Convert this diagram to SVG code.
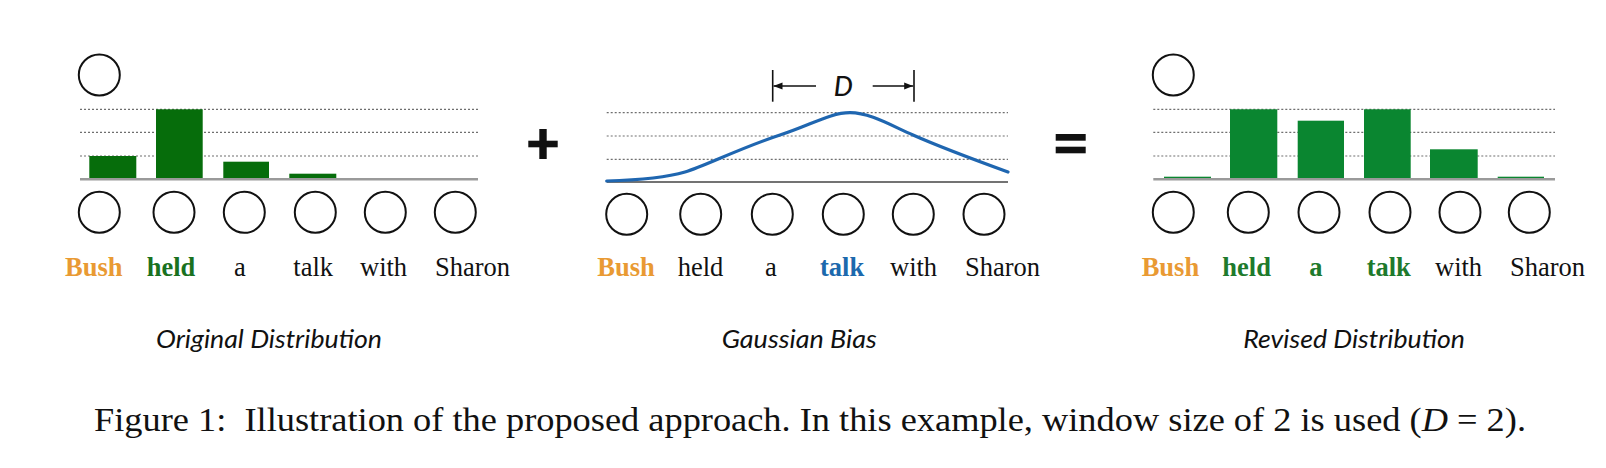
<svg xmlns="http://www.w3.org/2000/svg" width="1606" height="468" viewBox="0 0 1606 468">
<defs>
<style>
.node{fill:none;stroke:#111;stroke-width:2}
.dot{stroke:#6f6f6f;stroke-width:1.2;stroke-dasharray:2 2;fill:none}
.base{stroke:#9a9a9a;stroke-width:2.5}
.bar1{fill:#066d0b}
.bar3{fill:#0a8630}
.w{font-family:"Liberation Serif","Times New Roman",serif;font-size:26.5px;fill:#111}
.b{font-weight:bold}
.or{fill:#e99a33}
.g1{fill:#19711f}
.g3{fill:#1e7a2c}
.bl{fill:#1c69ad}
.cap{font-family:Lato,"Open Sans",sans-serif;font-style:italic;font-size:25px;fill:#111}
.fig{font-family:"Liberation Serif","Times New Roman",serif;font-size:33px;fill:#111}
.dim{stroke:#111;stroke-width:1.6;fill:none}
</style>
<marker id="ah" viewBox="0 0 10 10" refX="10" refY="5" markerWidth="9" markerHeight="9" markerUnits="userSpaceOnUse" orient="auto">
<path d="M0,1 L10,5 L0,9 z" fill="#111"/>
</marker>
</defs>
<rect width="1606" height="468" fill="#fff"/>

<!-- Panel 1: Original Distribution -->
<g id="panel1-grid">
<line class="dot" x1="80" y1="109.3" x2="478" y2="109.3"/>
<line class="dot" x1="80" y1="132.3" x2="478" y2="132.3"/>
<line class="dot" x1="80" y1="156" x2="478" y2="156"/>
</g>
<g id="panel1-bars">
<rect class="bar1" x="89.3" y="156" width="47" height="23"/>
<rect class="bar1" x="156" y="109.3" width="46.7" height="69.7"/>
<rect class="bar1" x="223.3" y="161.7" width="45.7" height="17.3"/>
<rect class="bar1" x="289.3" y="173.7" width="47" height="5.3"/>
</g>
<line class="base" x1="80" y1="179.3" x2="478" y2="179.3"/>
<g id="p1-top"><circle class="node" cx="99.3" cy="75" r="20.5"/></g>
<g id="p1-n1"><circle class="node" cx="99.3" cy="212.3" r="20.5"/></g>
<g id="p1-n2"><circle class="node" cx="174" cy="212.3" r="20.5"/></g>
<g id="p1-n3"><circle class="node" cx="244.3" cy="212.3" r="20.5"/></g>
<g id="p1-n4"><circle class="node" cx="315.3" cy="212.3" r="20.5"/></g>
<g id="p1-n5"><circle class="node" cx="385.3" cy="212.3" r="20.5"/></g>
<g id="p1-n6"><circle class="node" cx="455.3" cy="212.3" r="20.5"/></g>
<g id="p1-words">
<text class="w b or" x="65" y="276">Bush</text>
<text class="w b g1" x="146.7" y="276">held</text>
<text class="w" x="234" y="276">a</text>
<text class="w" x="293.3" y="276">talk</text>
<text class="w" x="360" y="276">with</text>
<text class="w" x="435" y="276">Sharon</text>
</g>
<text class="cap" x="156" y="348" textLength="226" lengthAdjust="spacingAndGlyphs">Original Distribution</text>

<!-- plus -->
<g id="plus">
<rect x="528.3" y="140.7" width="29.4" height="6.6" fill="#111"/>
<rect x="539.3" y="129" width="7.4" height="30" fill="#111"/>
</g>

<!-- Panel 2: Gaussian Bias -->
<g id="panel2-grid">
<line class="dot" x1="606.7" y1="112.7" x2="1008" y2="112.7"/>
<line class="dot" x1="606.7" y1="136" x2="1008" y2="136"/>
<line class="dot" x1="606.7" y1="159.3" x2="1008" y2="159.3"/>
<line x1="606.7" y1="182" x2="1008" y2="182" stroke="#444" stroke-width="1.5"/>
</g>
<path id="gauss" d="M606.7,181 C640,180 665,178 685,172 C705,166 740,148 780,135 C812,124.6 830,112.7 850,112.7 C870,112.7 890,125 913,135 C940,147 975,160 1008,172" fill="none" stroke="#1f66b0" stroke-width="3.2" stroke-linecap="round"/>
<g id="connectors">
<line class="dim" x1="772.7" y1="70" x2="772.7" y2="101.7"/>
<line class="dim" x1="914" y1="70" x2="914" y2="101.7"/>
<line class="dim" x1="816" y1="86" x2="773.5" y2="86" marker-end="url(#ah)"/>
<line class="dim" x1="872.7" y1="86" x2="913.2" y2="86" marker-end="url(#ah)"/>
</g>
<text class="cap" x="843.3" y="96" text-anchor="middle" style="font-size:27px;font-weight:500">D</text>
<g id="p2-n1"><circle class="node" cx="626.7" cy="214.3" r="20.5"/></g>
<g id="p2-n2"><circle class="node" cx="700.7" cy="214.3" r="20.5"/></g>
<g id="p2-n3"><circle class="node" cx="772.3" cy="214.3" r="20.5"/></g>
<g id="p2-n4"><circle class="node" cx="843.3" cy="214.3" r="20.5"/></g>
<g id="p2-n5"><circle class="node" cx="913.3" cy="214.3" r="20.5"/></g>
<g id="p2-n6"><circle class="node" cx="984" cy="214.3" r="20.5"/></g>
<g id="p2-words">
<text class="w b or" x="597.3" y="276">Bush</text>
<text class="w" x="677.7" y="276">held</text>
<text class="w" x="765" y="276">a</text>
<text class="w b bl" x="820" y="276">talk</text>
<text class="w" x="890" y="276">with</text>
<text class="w" x="965" y="276">Sharon</text>
</g>
<text class="cap" x="721.7" y="348" textLength="155" lengthAdjust="spacingAndGlyphs">Gaussian Bias</text>

<!-- equals -->
<g id="equals">
<rect x="1055.7" y="134" width="30" height="6.7" fill="#111"/>
<rect x="1055.7" y="146.7" width="30" height="6.6" fill="#111"/>
</g>

<!-- Panel 3: Revised Distribution -->
<g id="panel3-grid">
<line class="dot" x1="1153.3" y1="109.3" x2="1555" y2="109.3"/>
<line class="dot" x1="1153.3" y1="132.3" x2="1555" y2="132.3"/>
<line class="dot" x1="1153.3" y1="156" x2="1555" y2="156"/>
</g>
<g id="panel3-bars">
<rect class="bar3" x="1164" y="176.7" width="47" height="2.3"/>
<rect class="bar3" x="1230" y="109.3" width="47.3" height="69.7"/>
<rect class="bar3" x="1297.7" y="120.7" width="46.3" height="58.3"/>
<rect class="bar3" x="1364" y="109.3" width="46.7" height="69.7"/>
<rect class="bar3" x="1430" y="149.3" width="47.7" height="29.7"/>
<rect class="bar3" x="1497.7" y="176.7" width="46.3" height="2.3"/>
</g>
<line class="base" x1="1153.3" y1="179.3" x2="1555" y2="179.3"/>
<g id="p3-top"><circle class="node" cx="1173.3" cy="75" r="20.5"/></g>
<g id="p3-n1"><circle class="node" cx="1173.3" cy="212.3" r="20.5"/></g>
<g id="p3-n2"><circle class="node" cx="1248.3" cy="212.3" r="20.5"/></g>
<g id="p3-n3"><circle class="node" cx="1319" cy="212.3" r="20.5"/></g>
<g id="p3-n4"><circle class="node" cx="1390" cy="212.3" r="20.5"/></g>
<g id="p3-n5"><circle class="node" cx="1460" cy="212.3" r="20.5"/></g>
<g id="p3-n6"><circle class="node" cx="1529.3" cy="212.3" r="20.5"/></g>
<g id="p3-words">
<text class="w b or" x="1141.7" y="275.5">Bush</text>
<text class="w b g3" x="1222.3" y="275.5">held</text>
<text class="w b g3" x="1309.3" y="275.5">a</text>
<text class="w b g3" x="1366.7" y="275.5">talk</text>
<text class="w" x="1435" y="275.5">with</text>
<text class="w" x="1510" y="275.5">Sharon</text>
</g>
<text class="cap" x="1243.3" y="348" textLength="221.7" lengthAdjust="spacingAndGlyphs">Revised Distribution</text>

<text class="fig" x="94" y="431" textLength="1432" lengthAdjust="spacingAndGlyphs" xml:space="preserve">Figure 1:  Illustration of the proposed approach. In this example, window size of 2 is used (<tspan font-style="italic">D</tspan> = 2).</text>
</svg>
